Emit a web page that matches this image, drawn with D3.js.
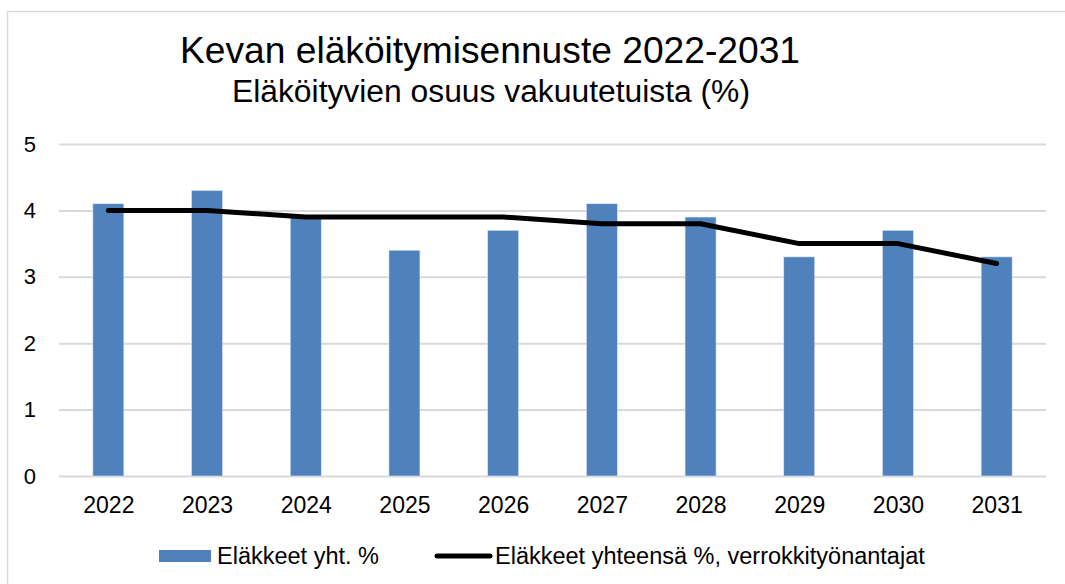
<!DOCTYPE html>
<html>
<head>
<meta charset="utf-8">
<script src="https://cdn.jsdelivr.net/npm/d3@7"></script>
<style>
  html, body { margin: 0; padding: 0; background: #fff; }
  svg { display: block; font-family: 'Liberation Sans', Arial, sans-serif; }
</style>
</head>
<body>
<div id="chart"></div>
<script>
const years = ['2022', '2023', '2024', '2025', '2026', '2027', '2028', '2029', '2030', '2031']
const retiredTotal = [4.1, 4.3, 3.9, 3.4, 3.7, 4.1, 3.9, 3.3, 3.7, 3.3]
const retiredPeers = [4.0, 4.0, 3.9, 3.9, 3.9, 3.8, 3.8, 3.5, 3.5, 3.2]
const yTicks = [0, 1, 2, 3, 4, 5]

const W = 1065, H = 584
const margin = { top: 144, right: 19, bottom: 108, left: 59 }
const w = W - margin.left - margin.right
const h = H - margin.top - margin.bottom
const font = "'Liberation Sans', Arial, sans-serif"

const svg = d3.select('#chart').append('svg').attr('width', W).attr('height', H)

// outer frame
svg.append('rect')
  .attr('x', 7.5).attr('y', 11.5).attr('width', W + 10).attr('height', H + 10)
  .attr('fill', 'none').attr('stroke', '#d9d9d9').attr('stroke-width', 1.5)

svg.append('text')
  .attr('x', 180).attr('y', 63)
  .attr('font-size', 37).attr('fill', '#000')
  .attr('textLength', 620).attr('lengthAdjust', 'spacingAndGlyphs')
  .text('Kevan eläköitymisennuste 2022-2031')
svg.append('text')
  .attr('x', 232).attr('y', 102)
  .attr('font-size', 31).attr('fill', '#000')
  .attr('textLength', 518).attr('lengthAdjust', 'spacingAndGlyphs')
  .text('Eläköityvien osuus vakuutetuista (%)')

const g = svg.append('g').attr('transform', `translate(${margin.left},${margin.top})`)

const x = d3.scaleBand().domain(years).range([0, w]).paddingInner(0.686).paddingOuter(0.343)
const xc = d3.scalePoint().domain(years).range([0, w]).padding(0.5)
const y = d3.scaleLinear().domain([0, 5]).range([h, 0])

// gridlines
g.append('g')
  .call(d3.axisLeft(y).tickValues(yTicks).tickSize(-w).tickFormat(''))
  .call(a => a.select('.domain').remove())
  .call(a => a.selectAll('line').attr('stroke', '#d9d9d9').attr('stroke-width', 2))

// y labels
g.append('g')
  .call(d3.axisLeft(y).tickValues(yTicks).tickSize(0).tickPadding(23).tickFormat(d3.format('d')))
  .call(a => a.select('.domain').remove())
  .call(a => a.selectAll('text').attr('font-size', 22).attr('fill', '#000').attr('font-family', font))

// x labels
g.append('g')
  .attr('transform', `translate(0,${h})`)
  .call(d3.axisBottom(xc).tickSize(0).tickPadding(21))
  .call(a => a.select('.domain').remove())
  .call(a => a.selectAll('text').attr('font-size', 23).attr('fill', '#000').attr('font-family', font))

// bars
g.selectAll('.bar')
  .data(years.map((yr, i) => ({ yr, v: retiredTotal[i] })))
  .join('rect')
  .attr('class', 'bar')
  .attr('x', d => x(d.yr))
  .attr('width', x.bandwidth())
  .attr('y', d => y(d.v))
  .attr('height', d => h - y(d.v))
  .attr('fill', '#4f81bd')
  .attr('stroke', '#dbe6f3').attr('stroke-width', 0.6)

// line
const line = d3.line()
  .x((d, i) => xc(years[i]))
  .y(d => y(d))
g.append('path')
  .datum(retiredPeers)
  .attr('fill', 'none')
  .attr('stroke', '#000')
  .attr('stroke-width', 5)
  .attr('stroke-linecap', 'round')
  .attr('stroke-linejoin', 'round')
  .attr('d', line)

// legend
const leg = svg.append('g').attr('font-size', 23.5).attr('fill', '#000')
leg.append('rect').attr('x', 159).attr('y', 550).attr('width', 52).attr('height', 12).attr('fill', '#4f81bd')
leg.append('text').attr('x', 217).attr('y', 564).text('Eläkkeet yht. %')
leg.append('line').attr('x1', 437).attr('x2', 490).attr('y1', 556).attr('y2', 556)
  .attr('stroke', '#000').attr('stroke-width', 5).attr('stroke-linecap', 'round')
leg.append('text').attr('x', 495).attr('y', 564).text('Eläkkeet yhteensä %, verrokkityönantajat')
</script>
</body>
</html>
